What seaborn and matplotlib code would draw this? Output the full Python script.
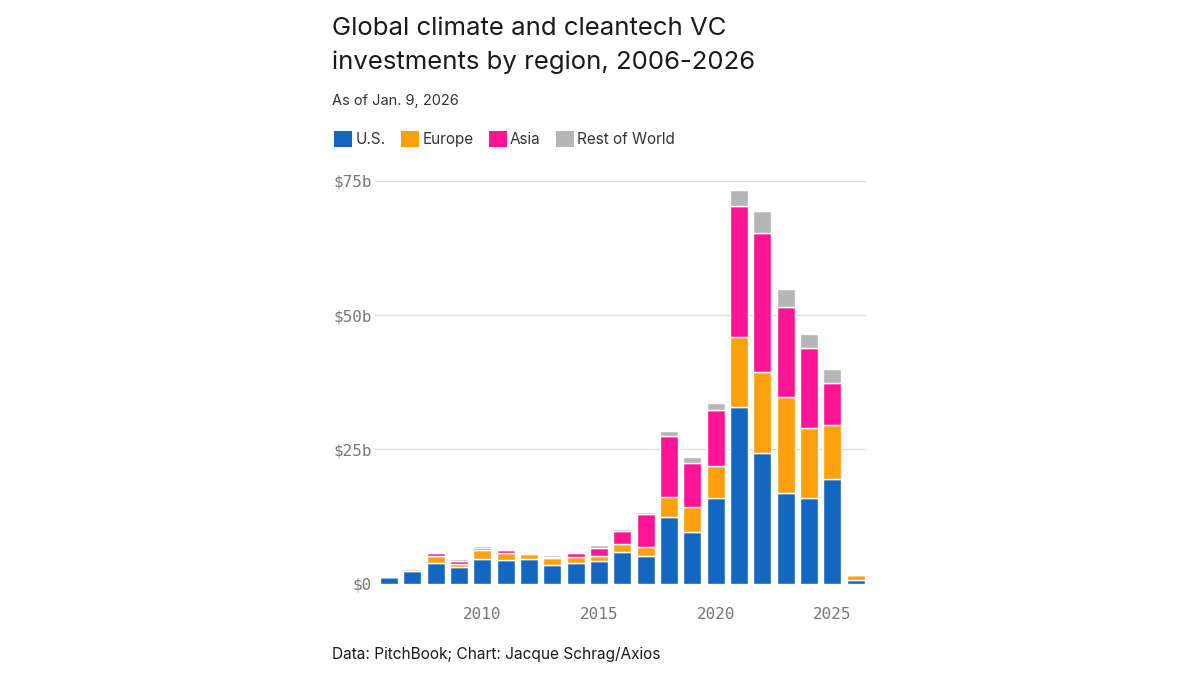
import numpy as np
import pandas as pd
import matplotlib
matplotlib.use("Agg")
import matplotlib.pyplot as plt
from matplotlib.patches import Patch
import seaborn as sns

# ---- data (billions USD) ----
years = list(range(2006, 2027))
us = [1.2, 2.35, 3.85, 3.05, 4.6, 4.35, 4.6, 3.5, 3.85, 4.15, 5.85, 5.2,
      12.4, 9.6, 15.9, 32.9, 24.25, 16.8, 15.9, 19.4, 0.6]
europe = [0.0, 0.35, 1.25, 0.65, 1.6, 1.25, 0.9, 1.2, 1.1, 1.05, 1.55, 1.65,
          3.8, 4.6, 6.0, 13.0, 15.15, 18.0, 13.1, 10.1, 0.95]
asia = [0.0, 0.05, 0.5, 0.45, 0.45, 0.6, 0.1, 0.15, 0.75, 1.4, 2.4, 6.15,
        11.3, 8.2, 10.4, 24.4, 26.0, 16.7, 14.9, 7.8, 0.0]
rest = [0.0, 0.05, 0.2, 0.35, 0.25, 0.3, 0.25, 0.45, 0.15, 0.5, 0.4, 0.4,
        1.0, 1.2, 1.3, 3.1, 4.0, 3.4, 2.5, 2.6, 0.0]

series_names = ["U.S.", "Europe", "Asia", "Rest of World"]
series_values = [us, europe, asia, rest]
colors = ["#1367C0", "#FFA10E", "#FF1493", "#B6B6B8"]

y_ticks = [0, 25, 50, 75]
y_tick_labels = ["$0", "$25b", "$50b", "$75b"]
x_tick_years = [2010, 2015, 2020, 2025]

title_lines = ["Global climate and cleantech VC", "investments by region, 2006-2026"]
subtitle = "As of Jan. 9, 2026"
footer = "Data: PitchBook; Chart: Jacque Schrag/Axios"

sns.set_theme(style="white")
plt.rcParams["font.family"] = ["Inter", "DejaVu Sans"]

fig = plt.figure(figsize=(12, 6.75), dpi=100)
ax = fig.add_axes([375 / 1200, 1 - 583.5 / 675, (866 - 375) / 1200, (583.5 - 181) / 675])

df = pd.DataFrame({"year": years})
bottom = np.zeros(len(years))
for name, vals, c in zip(series_names, series_values, colors):
    v = np.array(vals, dtype=float)
    sns.barplot(x=df["year"], y=v, bottom=bottom, color=c, saturation=1,
                width=0.78, edgecolor="white", linewidth=1.0, errorbar=None,
                ax=ax, order=years)
    bottom = bottom + v

ax.set_xlim(-0.6, 20.44)
ax.set_ylim(0, 75)
ax.set_xlabel("")
ax.set_ylabel("")

ax.set_yticks(y_ticks)
ax.set_yticklabels(y_tick_labels)
for yv in y_ticks[1:]:
    ax.axhline(yv, color="#dedede", linewidth=1.0, zorder=0)

ax.set_xticks([years.index(y) for y in x_tick_years])
ax.set_xticklabels([str(y) for y in x_tick_years])

mono = "DejaVu Sans Mono"
for lab in ax.get_yticklabels() + ax.get_xticklabels():
    lab.set_fontfamily(mono)
    lab.set_fontsize(11.5)
    lab.set_color("#777777")
ax.tick_params(axis="y", length=0, pad=2)
ax.tick_params(axis="x", length=11, width=1, color="#d0d0d0", pad=6, direction="out")
for s in ax.spines.values():
    s.set_visible(False)
ax.grid(False)

# ---- texts ----
fig.text(332 / 1200, 1 - 35 / 675, title_lines[0],
         fontsize=18.5, color="#1a1a1a", va="baseline", ha="left")
fig.text(332 / 1200, 1 - 68.5 / 675, title_lines[1],
         fontsize=18.5, color="#1a1a1a", va="baseline", ha="left")
fig.text(332 / 1200, 1 - 105 / 675, subtitle, fontsize=10.5, color="#333333",
         va="baseline", ha="left")
fig.text(332 / 1200, 1 - 659 / 675, footer, fontsize=11.1, color="#1a1a1a",
         va="baseline", ha="left")

handles = [Patch(facecolor=c, edgecolor="none") for c in colors]
leg = fig.legend(handles, series_names, ncol=4, loc="upper left",
                 bbox_to_anchor=(328 / 1200, 1 - 125 / 675), frameon=False,
                 fontsize=11, handlelength=1.2, handleheight=1.2,
                 handletextpad=0.2, columnspacing=1.0, borderaxespad=0)
for t in leg.get_texts():
    t.set_color("#333333")

fig.savefig("out.png", dpi=100, facecolor="white")
